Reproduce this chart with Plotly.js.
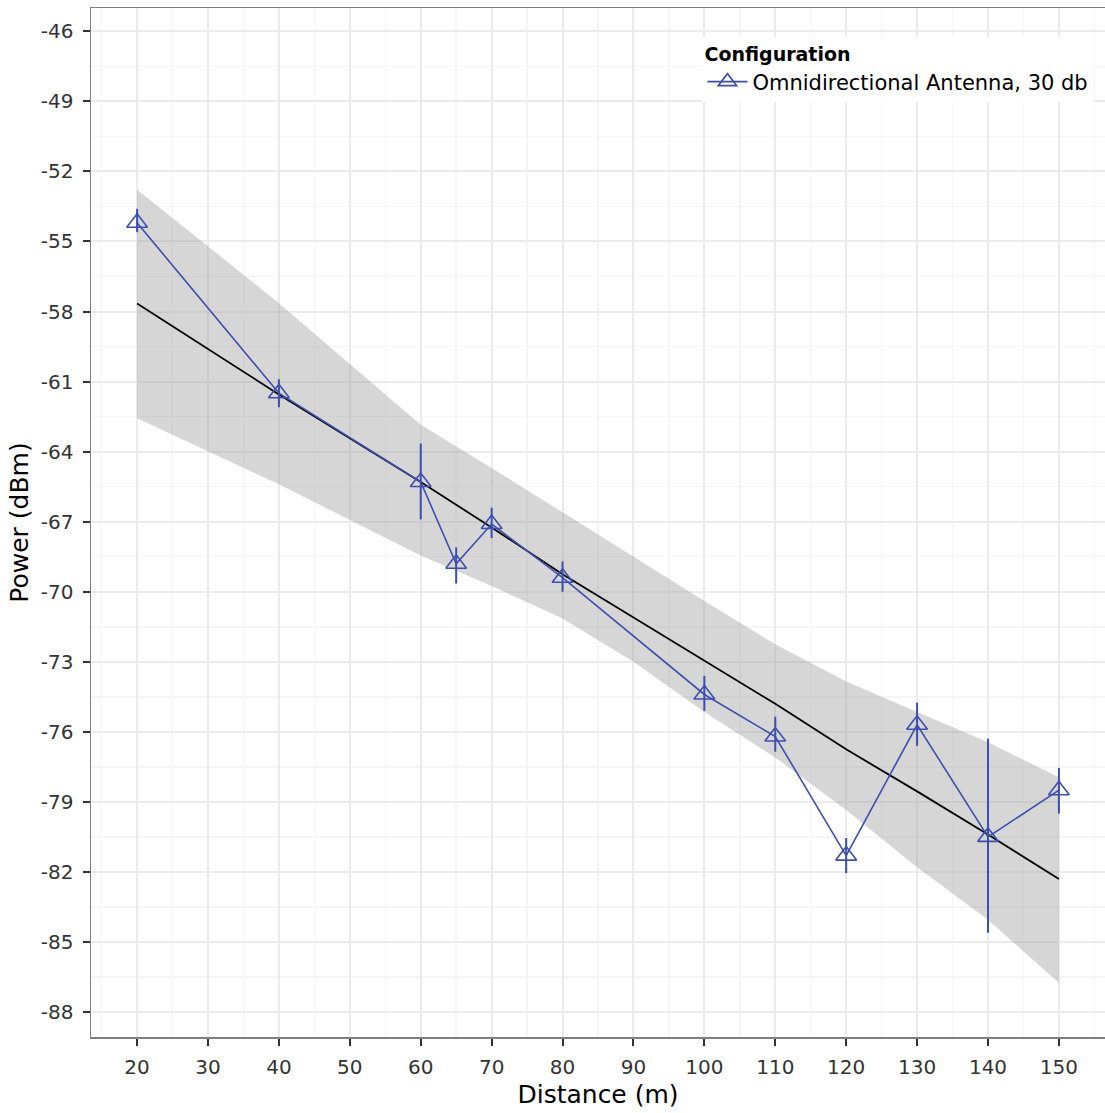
<!DOCTYPE html>
<html>
<head>
<meta charset="utf-8">
<script src="https://cdn.plot.ly/plotly-3.0.1.min.js"></script>
<style>
html,body{margin:0;padding:0;background:#fff;}
#chart{width:1105px;height:1113px;}
</style>
</head>
<body>
<div id="chart"></div>
<script>
// Measured points
const distance = [20, 40, 60, 65, 70, 80, 100, 110, 120, 130, 140, 150];
const power    = [-54.2, -61.5, -65.3, -68.8, -67.1, -69.4, -74.4, -76.2, -81.3, -75.7, -80.5, -78.5];
const powerHi  = [-53.6, -60.9, -63.65, -68.1, -66.4, -68.7, -73.6, -75.35, -80.55, -74.75, -76.3, -77.55];
const powerLo  = [-54.6, -62.1, -66.9, -69.65, -67.7, -70.0, -75.1, -76.85, -82.05, -76.6, -84.6, -79.5];

// Fitted trend with confidence band
const fitX     = [20, 40, 60, 70, 80, 90, 100, 110, 120, 130, 140, 150];
const fitY     = [-57.66, -61.55, -65.3, -67.25, -69.25, -71.1, -72.95, -74.8, -76.75, -78.55, -80.4, -82.3];
const bandHi   = [-52.78, -57.64, -62.85, -64.7, -66.6, -68.5, -70.4, -72.25, -73.85, -75.15, -76.45, -77.95];
const bandLo   = [-62.57, -65.4, -68.45, -69.75, -71.15, -73.0, -75.15, -77.1, -79.35, -81.8, -84.05, -86.75];

// Axis ticks
const xTicks = [20, 30, 40, 50, 60, 70, 80, 90, 100, 110, 120, 130, 140, 150];
const yTicks = [-46, -49, -52, -55, -58, -61, -64, -67, -70, -73, -76, -79, -82, -85, -88];

const seriesName = "Omnidirectional Antenna, 30 db";
const blue = "#3d4fad";
const FONT = "DejaVu Sans, Liberation Sans, Arial, sans-serif";

const traces = [
  {x: fitX, y: bandLo, type: "scatter", mode: "lines", line: {width: 0, color: "rgba(0,0,0,0)"},
   showlegend: false, hoverinfo: "skip"},
  {x: fitX, y: bandHi, type: "scatter", mode: "lines", line: {width: 0, color: "rgba(0,0,0,0)"},
   fill: "tonexty", fillcolor: "rgba(153,153,153,0.4)", showlegend: false, hoverinfo: "skip"},
  {x: fitX, y: fitY, type: "scatter", mode: "lines", line: {color: "#000000", width: 1.8},
   showlegend: false},
  {x: distance, y: power, type: "scatter", mode: "lines+markers", name: seriesName,
   line: {color: blue, width: 1.6},
   marker: {symbol: "triangle-up-open", size: 18, color: blue, line: {color: blue, width: 1.6}},
   error_y: {type: "data", symmetric: false,
             array: powerHi.map((h, i) => h - power[i]),
             arrayminus: powerLo.map((l, i) => power[i] - l),
             width: 0, thickness: 2, color: blue}}
];

const layout = {
  width: 1105, height: 1113,
  margin: {l: 91, r: 0, t: 8, b: 76},
  paper_bgcolor: "#ffffff", plot_bgcolor: "#ffffff",
  font: {family: FONT, color: "#333333", size: 20},
  showlegend: true,
  legend: {
    x: 0.603, xanchor: "left", y: 0.972, yanchor: "top",
    bgcolor: "#ffffff", borderwidth: 0,
    title: {text: "<b>Configuration</b>", font: {family: FONT, size: 19, color: "#000000"}},
    font: {family: FONT, size: 21, color: "#000000"},
    itemwidth: 40
  },
  xaxis: {
    range: [13.5, 156.5], tickvals: xTicks, ticktext: xTicks.map(String),
    showgrid: true, gridcolor: "#ebebeb", gridwidth: 2,
    minor: {dtick: 5, tick0: 15, showgrid: true, gridcolor: "#f5f5f5", gridwidth: 1.5, ticks: ""},
    ticks: "outside", ticklen: 7, tickwidth: 2, tickcolor: "#333333",
    ticklabelstandoff: 4,
    showline: true, mirror: true, linecolor: "#7f7f7f", linewidth: 1.5,
    zeroline: false,
    tickfont: {family: FONT, size: 20, color: "#333333"},
    title: {text: "Distance (m)", font: {family: FONT, size: 25, color: "#000000"}, standoff: 8}
  },
  yaxis: {
    range: [-89.07, -45.0], tickvals: yTicks, ticktext: yTicks.map(String),
    showgrid: true, gridcolor: "#ebebeb", gridwidth: 2,
    minor: {dtick: 1.5, tick0: -47.5, showgrid: true, gridcolor: "#f5f5f5", gridwidth: 1.5, ticks: ""},
    ticks: "outside", ticklen: 7, tickwidth: 2, tickcolor: "#333333",
    ticklabelstandoff: 5,
    showline: true, mirror: true, linecolor: "#7f7f7f", linewidth: 1.5,
    zeroline: false,
    tickfont: {family: FONT, size: 20, color: "#333333"},
    title: {text: "Power (dBm)", font: {family: FONT, size: 25, color: "#000000"}, standoff: 5}
  }
};

Plotly.newPlot("chart", traces, layout, {displayModeBar: false, staticPlot: true});
</script>
</body>
</html>
